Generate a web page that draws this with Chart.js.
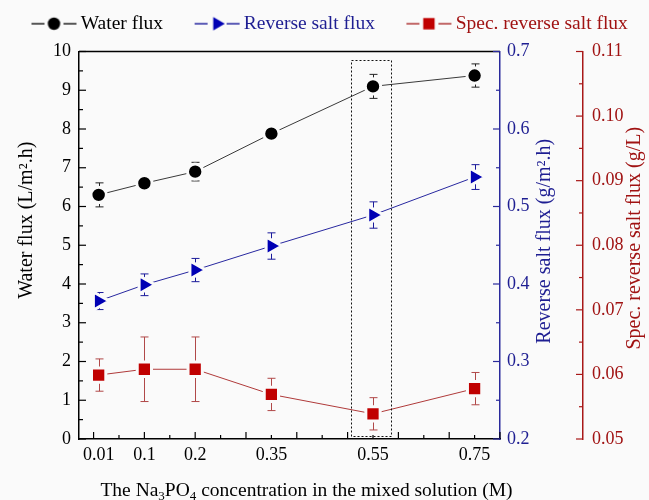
<!DOCTYPE html>
<html>
<head>
<meta charset="utf-8">
<script src="https://cdn.jsdelivr.net/npm/chart.js@4.4.1/dist/chart.umd.min.js"></script>
<style>
html, body { margin: 0; padding: 0; background: #fafafa; }
</style>
</head>
<body>
<canvas id="grafico" width="649" height="500"></canvas>
<script>
// concentracao de Na3PO4 na solucao (M)
const concentracao = [0.01, 0.1, 0.2, 0.35, 0.55, 0.75]
const rotulosX = ['0.01', '0.1', '0.2', '0.35', '0.55', '0.75']

// Water flux (L/m2.h)
const waterFlux = [6.3, 6.6, 6.9, 7.88, 9.1, 9.38]
const waterErr = [0.31, 0.1, 0.24, 0.13, 0.31, 0.3]

// Reverse salt flux (g/m2.h)
const reverseSalt = [0.378, 0.399, 0.418, 0.449, 0.489, 0.538]
const reverseErr = [0.011, 0.014, 0.015, 0.017, 0.017, 0.016]

// Spec. reverse salt flux (g/L)
const specSalt = [0.0599, 0.0608, 0.0608, 0.0569, 0.0539, 0.0578]
const specErr = [0.0025, 0.005, 0.005, 0.0025, 0.0025, 0.0025]

const nomes = ['Water flux', 'Reverse salt flux', 'Spec. reverse salt flux']

// caixa pontilhada em volta do ponto 0.55 M (unidades do eixo x e do eixo esquerdo)
const caixaX = [0.506, 0.584]
const caixaY = [0.08, 9.79]

const fonte = "'Liberation Serif', 'Times New Roman', serif"
Chart.defaults.font.family = fonte

const corFundo = '#fafafa'
const preto = '#000000', azul = '#0000b4', vermelho = '#c00000'
const textoAzul = '#1e1e92', textoVermelho = '#a01212'

function pares(ys) {
    return concentracao.map((x, i) => ({ x: x, y: ys[i] }))
}

// desenha o marcador (usado so na legenda)
function marcador(g, tipo, cx, cy) {
    g.beginPath()
    if (tipo === 'circle') {
        g.arc(cx, cy, 6.2, 0, Math.PI * 2)
    } else if (tipo === 'triangle') {
        g.moveTo(cx + 7.7, cy)
        g.lineTo(cx - 3.85, cy - 6.7)
        g.lineTo(cx - 3.85, cy + 6.7)
        g.closePath()
    } else {
        g.rect(cx - 5.7, cy - 5.7, 11.4, 11.4)
    }
    g.fill()
}

// simbolo da legenda: linha - marcador - linha (fica deslocado para a direita no canvas)
function simboloLegenda(corLinha, corMarca, tipo) {
    const c = document.createElement('canvas')
    c.width = 74
    c.height = 20
    const g = c.getContext('2d')
    g.strokeStyle = corLinha
    g.lineWidth = 1.3
    g.beginPath()
    g.moveTo(28, 10)
    g.lineTo(41, 10)
    g.moveTo(60, 10)
    g.lineTo(73, 10)
    g.stroke()
    g.fillStyle = corMarca
    marcador(g, tipo, 50.5, 10)
    return c
}

const simbolos = [
    simboloLegenda('#222', preto, 'circle'),
    simboloLegenda('#2828a0', azul, 'triangle'),
    simboloLegenda('#b03a3a', vermelho, 'rect')
]
const coresTexto = [preto, textoAzul, textoVermelho]

// marcas dos eixos para dentro (maiores e menores)
const marcas = [
    { id: 'x', de: 0, ate: 0.8, maior: 0.1, menor: 0.05, cor: preto },
    { id: 'y', de: 0, ate: 10, maior: 1, menor: 0.5, cor: preto },
    { id: 'y2', de: 0.2, ate: 0.7, maior: 0.1, menor: 0.05, cor: '#2a2a9c' },
    { id: 'y3', de: 0.05, ate: 0.11, maior: 0.01, menor: 0.005, cor: '#a81818' }
]

const fundo = {
    id: 'fundo',
    beforeDraw(chart) {
        const ctx = chart.ctx
        ctx.save()
        ctx.fillStyle = corFundo
        ctx.fillRect(0, 0, chart.width, chart.height)
        ctx.restore()
    }
}

const barrasErro = {
    id: 'barrasErro',
    beforeDatasetsDraw(chart) {
        const ctx = chart.ctx
        const xs = chart.scales.x
        ctx.save()
        chart.data.datasets.forEach(ds => {
            const ys = chart.scales[ds.yAxisID]
            ctx.strokeStyle = ds.corErro
            ctx.lineWidth = 1
            ds.data.forEach((p, j) => {
                const e = ds.erros[j]
                const px = Math.round(xs.getPixelForValue(p.x)) + 0.5
                const t = ys.getPixelForValue(p.y + e)
                const b = ys.getPixelForValue(p.y - e)
                ctx.beginPath()
                ctx.moveTo(px, t); ctx.lineTo(px, b)
                ctx.moveTo(px - 4, t); ctx.lineTo(px + 4, t)
                ctx.moveTo(px - 4, b); ctx.lineTo(px + 4, b)
                ctx.stroke()
            })
        })
        ctx.restore()
    }
}

const moldura = {
    id: 'moldura',
    afterDraw(chart) {
        const ctx = chart.ctx
        const area = chart.chartArea
        const s = chart.scales
        ctx.save()

        // linha de cima
        ctx.strokeStyle = preto
        ctx.lineWidth = 1.5
        ctx.beginPath()
        ctx.moveTo(area.left, area.top)
        ctx.lineTo(area.right, area.top)
        ctx.stroke()

        // marcas
        marcas.forEach(m => {
            const sc = s[m.id]
            const n = Math.round((m.ate - m.de) / m.menor)
            ctx.strokeStyle = m.cor
            ctx.lineWidth = 1.2
            for (let k = 0; k <= n; k++) {
                const v = m.de + k * m.menor
                const r = v / m.maior
                const len = Math.abs(r - Math.round(r)) < 1e-6 ? 7 : 4
                const p = sc.getPixelForValue(v)
                ctx.beginPath()
                if (m.id === 'x') {
                    ctx.moveTo(p, area.bottom); ctx.lineTo(p, area.bottom - len)
                } else if (m.id === 'y') {
                    ctx.moveTo(area.left, p); ctx.lineTo(area.left + len, p)
                } else {
                    ctx.moveTo(sc.left, p); ctx.lineTo(sc.left - len, p)
                }
                ctx.stroke()
            }
        })

        // caixa pontilhada
        const x1 = s.x.getPixelForValue(caixaX[0]), x2 = s.x.getPixelForValue(caixaX[1])
        const y1 = s.y.getPixelForValue(caixaY[1]), y2 = s.y.getPixelForValue(caixaY[0])
        ctx.strokeStyle = '#111'
        ctx.lineWidth = 1
        ctx.setLineDash([2, 2])
        ctx.strokeRect(Math.round(x1) + 0.5, Math.round(y1) + 0.5, Math.round(x2 - x1), Math.round(y2 - y1))
        ctx.setLineDash([])

        // titulos dos eixos
        const meio = (area.top + area.bottom) / 2
        ctx.font = '20px ' + fonte
        ctx.textAlign = 'center'
        ctx.textBaseline = 'middle'

        function vertical(txt, x, y, cor) {
            ctx.save()
            ctx.translate(x, y)
            ctx.rotate(-Math.PI / 2)
            ctx.fillStyle = cor
            ctx.fillText(txt, 0, 0)
            ctx.restore()
        }
        vertical('Water flux (L/m\u00B2.h)', s.y.left + 27, meio - 25, preto)
        vertical('Reverse salt flux (g/m\u00B2.h)', s.y2.left + 45, meio - 4, textoAzul)
        vertical('Spec. reverse salt flux (g/L)', s.y3.left + 52, meio - 7, textoVermelho)

        // titulo do eixo x com subscritos
        const partes = [['The Na', 0], ['3', 1], ['PO', 0], ['4', 1], [' concentration in the mixed solution (M)', 0]]
        const fN = '19.5px ' + fonte, fS = '13px ' + fonte
        let total = 0
        partes.forEach(p => { ctx.font = p[1] ? fS : fN; total += ctx.measureText(p[0]).width })
        let cx = (area.left + area.right) / 2 + 17 - total / 2
        const cy = s.x.top + 50
        ctx.textAlign = 'left'
        ctx.textBaseline = 'alphabetic'
        ctx.fillStyle = preto
        partes.forEach(p => {
            ctx.font = p[1] ? fS : fN
            ctx.fillText(p[0], cx, cy + 7 + (p[1] ? 4 : 0))
            cx += ctx.measureText(p[0]).width
        })
        ctx.restore()
    }
}

function CriaGrafico() {
    const ctx = document.getElementById('grafico')

    // a borda do marcador tem a cor do fundo: abre um pequeno vao entre linha e marcador
    new Chart(ctx, {
        type: 'line',
        data: {
            datasets: [{
                label: nomes[0],
                data: pares(waterFlux),
                erros: waterErr,
                corErro: '#222',
                yAxisID: 'y',
                borderColor: '#3a3a3a',
                borderWidth: 1,
                backgroundColor: preto,
                pointStyle: 'circle',
                pointRadius: 7.7,
                pointBorderColor: corFundo,
                pointBorderWidth: 3
            }, {
                label: nomes[1],
                data: pares(reverseSalt),
                erros: reverseErr,
                corErro: '#1a1a9a',
                yAxisID: 'y2',
                borderColor: '#2828a0',
                borderWidth: 1,
                backgroundColor: azul,
                pointStyle: 'triangle',
                pointRotation: 90,
                pointRadius: 10.5,
                pointBorderColor: corFundo,
                pointBorderWidth: 3
            }, {
                label: nomes[2],
                data: pares(specSalt),
                erros: specErr,
                corErro: '#b04848',
                yAxisID: 'y3',
                borderColor: '#b03a3a',
                borderWidth: 1,
                backgroundColor: vermelho,
                pointStyle: 'rect',
                pointRadius: 10.1,
                pointBorderColor: corFundo,
                pointBorderWidth: 3
            }]
        },
        options: {
            responsive: false,
            animation: false,
            layout: { padding: { top: 4 } },
            plugins: {
                tooltip: { enabled: false },
                legend: {
                    position: 'top',
                    align: 'start',
                    labels: {
                        usePointStyle: true,
                        pointStyleWidth: 61,
                        padding: 10,
                        font: { size: 19.5, family: fonte },
                        generateLabels: chart => chart.data.datasets.map((ds, i) => ({
                            text: ds.label,
                            fontColor: coresTexto[i],
                            pointStyle: simbolos[i],
                            datasetIndex: i,
                            hidden: false,
                            lineWidth: 0,
                            strokeStyle: 'transparent',
                            fillStyle: 'transparent'
                        }))
                    }
                }
            },
            scales: {
                x: {
                    type: 'linear',
                    min: -0.0287,
                    max: 0.8,
                    afterBuildTicks: sc => { sc.ticks = concentracao.map(v => ({ value: v })) },
                    afterFit: sc => { sc.height = 61 },
                    ticks: {
                        autoSkip: false,
                        maxRotation: 0,
                        padding: 5,
                        color: preto,
                        font: { size: 18 },
                        callback: (v, i) => rotulosX[i]
                    },
                    grid: { display: false, drawTicks: false },
                    border: { color: preto, width: 1.5 }
                },
                // eixo vazio em cima, so para dar espaco abaixo da legenda
                topo: {
                    type: 'linear',
                    axis: 'x',
                    position: 'top',
                    afterFit: sc => { sc.height = 8 },
                    ticks: { display: false },
                    grid: { display: false, drawTicks: false },
                    border: { display: false }
                },
                y: {
                    position: 'left',
                    min: 0,
                    max: 10,
                    afterFit: sc => { sc.width = 79 },
                    ticks: { stepSize: 1, padding: 8, color: preto, font: { size: 18 } },
                    grid: { display: false, drawTicks: false },
                    border: { color: preto, width: 1.5 }
                },
                y2: {
                    position: 'right',
                    weight: 0,
                    min: 0.2,
                    max: 0.7,
                    afterFit: sc => { sc.width = 83 },
                    ticks: {
                        stepSize: 0.1, padding: 7, color: textoAzul, font: { size: 18 },
                        callback: v => v.toFixed(1)
                    },
                    grid: { display: false, drawTicks: false },
                    border: { color: '#2a2a9c', width: 1.5 }
                },
                y3: {
                    position: 'right',
                    weight: 1,
                    min: 0.05,
                    max: 0.11,
                    afterFit: sc => { sc.width = 66 },
                    ticks: {
                        stepSize: 0.01, padding: 9, color: textoVermelho, font: { size: 18 },
                        callback: v => v.toFixed(2)
                    },
                    grid: { display: false, drawTicks: false },
                    border: { color: '#a81818', width: 1.5 }
                }
            }
        },
        plugins: [fundo, barrasErro, moldura]
    })
}

//Chama a funcao do grafico
CriaGrafico()
</script>
</body>
</html>
